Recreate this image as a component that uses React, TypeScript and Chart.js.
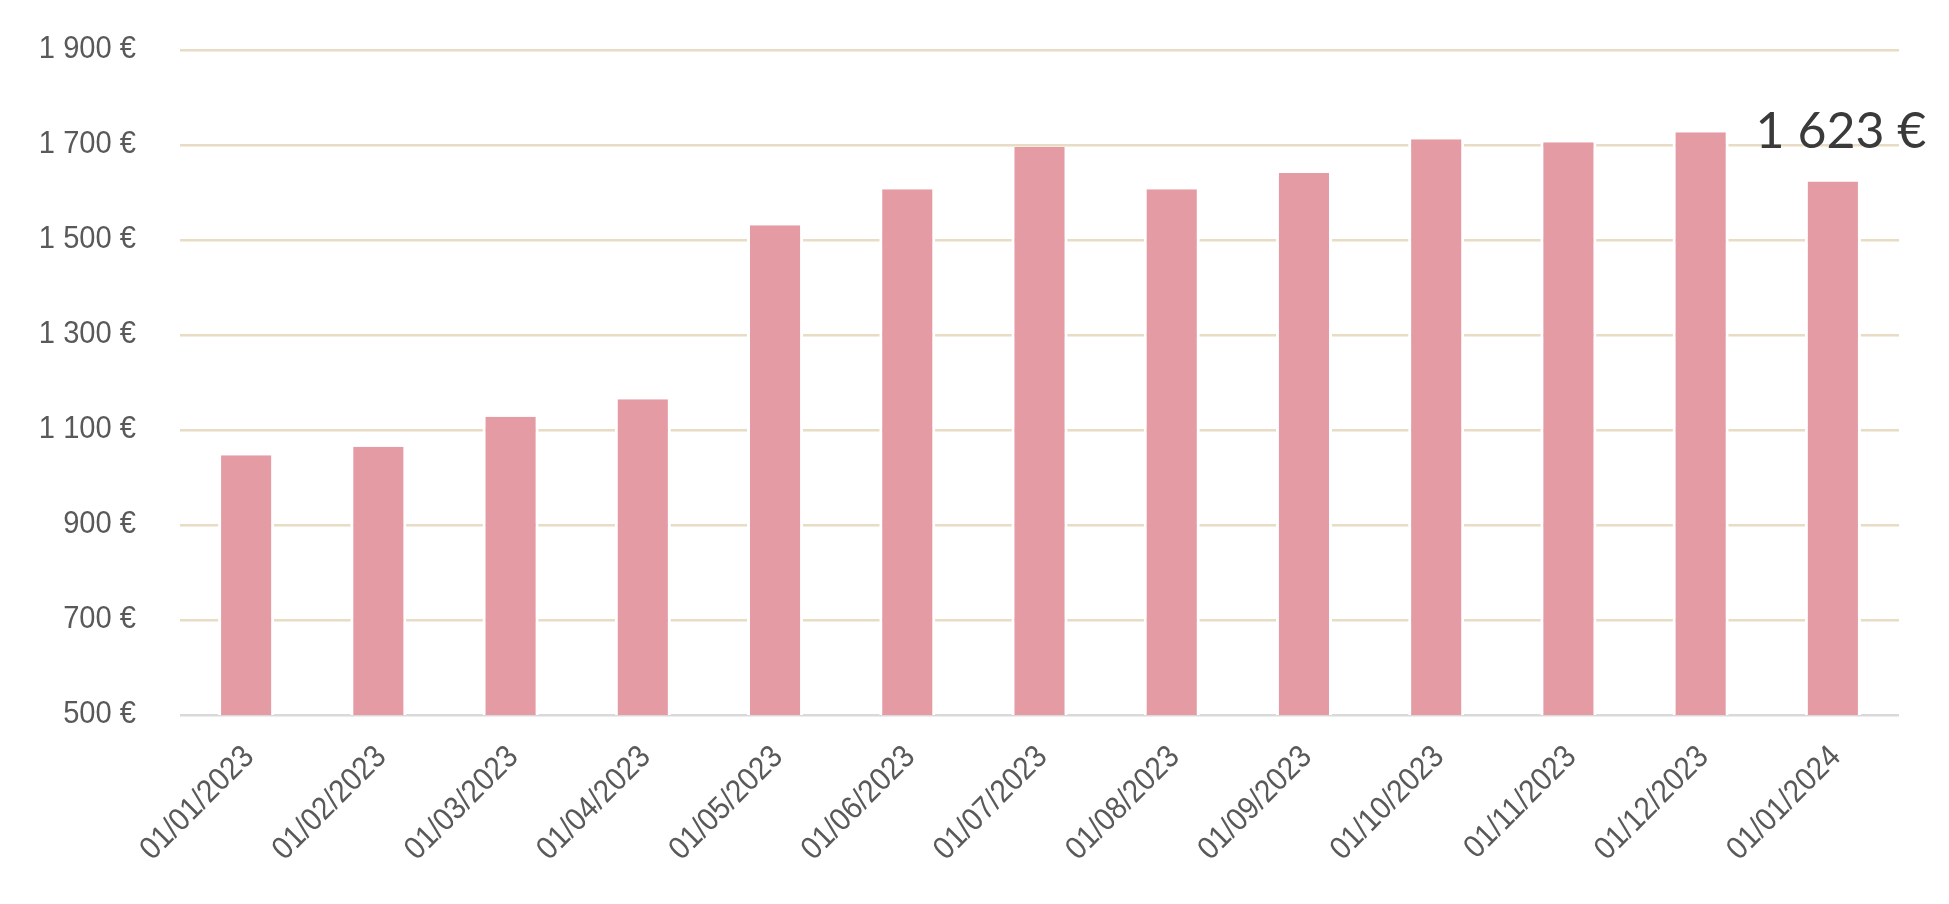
import React, { useEffect, useRef } from "react";
import { Chart, registerables } from "chart.js";

Chart.register(...registerables);

const categories: string[] = [
  "01/01/2023", "01/02/2023", "01/03/2023", "01/04/2023", "01/05/2023",
  "01/06/2023", "01/07/2023", "01/08/2023", "01/09/2023", "01/10/2023",
  "01/11/2023", "01/12/2023", "01/01/2024",
];
const values: number[] = [1047, 1065, 1128, 1165, 1531, 1607, 1696, 1607, 1641, 1712, 1706, 1727, 1623];
const yMin = 500;
const yMax = 1900;
const yStep = 200;

const fmt = (v: number) => {
  const th = Math.floor(v / 1000);
  const rest = Math.round(v % 1000);
  return th > 0 ? `${th} ${String(rest).padStart(3, "0")} €` : `${rest} €`;
};

const axisFont = "32px 'Liberation Sans', Arial, sans-serif";
const axisColor = "#595959";
const squeeze = 0.91;

export default function App() {
  const ref = useRef<HTMLCanvasElement | null>(null);
  useEffect(() => {
    document.body.style.margin = "0";
    const canvas = ref.current!;
    const labelPlugin = {
      id: "customLabels",
      afterDatasetsDraw(chart: any) {
        const ctx = chart.ctx;
        const area = chart.chartArea;
        const ys = chart.scales.y;
        const xs = chart.scales.x;
        ctx.save();
        ctx.font = axisFont;
        ctx.fillStyle = axisColor;
        ctx.textAlign = "right";
        ctx.textBaseline = "middle";
        ys.ticks.forEach((t: any) => {
          const y = ys.getPixelForValue(t.value);
          ctx.save();
          ctx.translate(area.left - 44, y - 1);
          ctx.scale(squeeze, 1);
          ctx.fillText(fmt(t.value), 0, 0);
          ctx.restore();
        });
        categories.forEach((lab, i) => {
          const x = xs.getPixelForValue(i);
          ctx.save();
          ctx.translate(x + 3, area.bottom + 37);
          ctx.rotate(-Math.PI / 4);
          ctx.scale(squeeze, 1);
          ctx.fillText(lab, 0, 0);
          ctx.restore();
        });
        ctx.restore();
        const meta = chart.getDatasetMeta(0);
        const last = meta.data[meta.data.length - 1];
        ctx.save();
        ctx.font = "50px Lato";
        ctx.fillStyle = "#3a3a3a";
        ctx.textAlign = "center";
        ctx.textBaseline = "alphabetic";
        ctx.fillText(fmt(values[values.length - 1]), last.x + 8, last.y - 34);
        ctx.restore();
      },
    };
    const chart = new Chart(canvas, {
      type: "bar",
      data: {
        labels: categories,
        datasets: [
          {
            data: values,
            backgroundColor: "#e49ba4",
            borderColor: "#ffffff",
            borderWidth: { left: 3, right: 3, top: 0, bottom: 0 } as any,
            borderSkipped: false,
            barPercentage: 0.424,
            categoryPercentage: 1,
          },
        ],
      },
      options: {
        responsive: false,
        animation: false,
        layout: { padding: { top: 50, right: 50, left: 0, bottom: 0 } },
        plugins: { legend: { display: false }, tooltip: { enabled: false } },
        scales: {
          x: {
            grid: { display: false },
            border: { display: false },
            ticks: { display: false, autoSkip: false },
            afterFit: (s: any) => { s.height = 189; },
          },
          y: {
            min: yMin,
            max: yMax,
            border: { display: false },
            grid: {
              drawTicks: false,
              lineWidth: 2.5,
              color: (c: any) => (c.tick && c.tick.value === yMin ? "#d9d9d9" : "#e8dcc4"),
            },
            ticks: { display: false, stepSize: yStep },
            afterFit: (s: any) => { s.width = 180; },
          },
        },
      },
      plugins: [labelPlugin],
    });
    return () => chart.destroy();
  }, []);
  return (
    <div style={{ width: 1949, height: 904 }}>
      <canvas ref={ref} width={1949} height={904} style={{ display: "block" }} />
    </div>
  );
}
